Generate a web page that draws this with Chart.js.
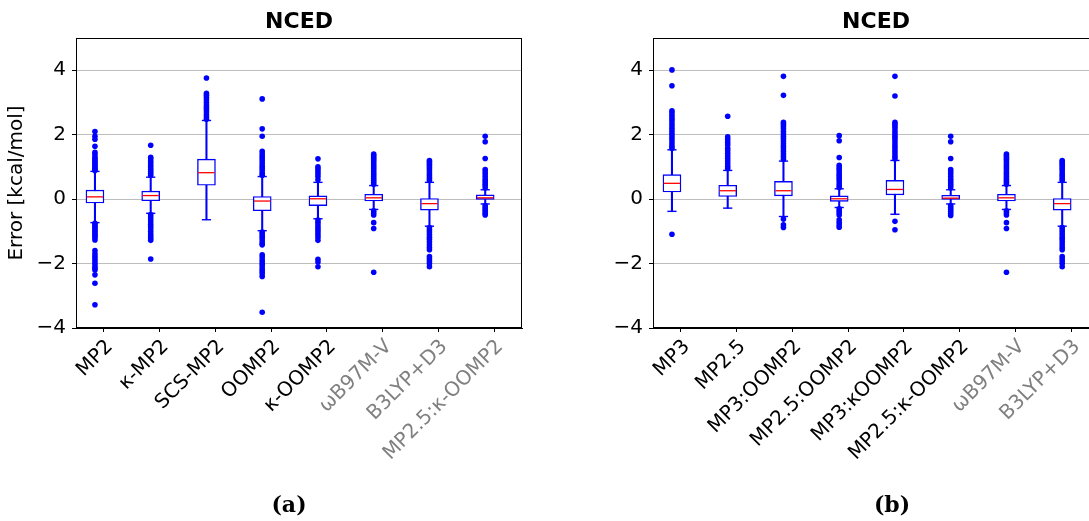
<!DOCTYPE html>
<html>
<head>
<meta charset="utf-8">
<script src="https://cdn.jsdelivr.net/npm/chart.js@4.4.1/dist/chart.umd.min.js"></script>
<style>
  html, body { margin: 0; padding: 0; background: #fff; overflow: hidden; width: 1089px; height: 521px; }
  canvas { position: absolute; top: 0; }
  #chartA { left: 0; }
  #chartB { left: 578px; }
</style>
</head>
<body>
<canvas id="chartA" width="578" height="521"></canvas>
<canvas id="chartB" width="628" height="521"></canvas>
<script>
// panel (a)
const namesA = ['MP2', '\u03BA-MP2', 'SCS-MP2', 'OOMP2', '\u03BA-OOMP2', '\u03C9B97M-V', 'B3LYP+D3', 'MP2.5:\u03BA-OOMP2'];
const q1A  = [-0.12, -0.05, 0.43, -0.36, -0.20, -0.06, -0.34, -0.01];
const medA = [ 0.07,  0.11, 0.82, -0.06,  0.01,  0.04, -0.14,  0.04];
const q3A  = [ 0.28,  0.25, 1.24,  0.08,  0.10,  0.15,  0.02,  0.13];
const loA  = [-0.73, -0.44, -0.64, -0.98, -0.61, -0.32, -0.84, -0.15];
const hiA  = [ 0.86,  0.68, 2.44,  0.70,  0.52,  0.42,  0.52,  0.29];
const outA = [
  [2.10, 1.95, 1.86, 1.64, 1.45, 1.38, 1.30, 1.25, 1.20, 1.15, 1.10, 1.05, 1.00, 0.96, 0.92, 0.89,
   -0.75, -0.80, -0.85, -0.90, -0.95, -1.00, -1.05, -1.10, -1.15, -1.20, -1.27, -1.60, -1.70, -1.78,
   -1.85, -1.92, -2.00, -2.08, -2.15, -2.20, -2.35, -2.61, -3.28],
  [1.67, 1.30, 1.25, 1.18, 1.12, 1.05, 0.98, 0.92, 0.86, 0.80, 0.74,
   -0.48, -0.55, -0.62, -0.70, -0.78, -0.85, -0.92, -1.00, -1.08, -1.15, -1.22, -1.28, -1.86],
  [3.76, 3.28, 3.22, 3.15, 3.08, 3.00, 2.92, 2.85, 2.78, 2.70, 2.62, 2.55, 2.48],
  [3.11, 2.18, 1.95, 1.48, 1.40, 1.32, 1.25, 1.18, 1.10, 1.02, 0.95, 0.88, 0.80, 0.74,
   -1.02, -1.08, -1.15, -1.22, -1.30, -1.38, -1.42, -1.73, -1.80, -1.88, -1.95, -2.02, -2.10,
   -2.18, -2.25, -2.32, -2.40, -3.51],
  [1.25, 1.00, 0.93, 0.85, 0.78, 0.70, 0.60,
   -0.65, -0.72, -0.80, -0.88, -0.95, -1.02, -1.10, -1.18, -1.28, -1.87, -1.95, -2.10],
  [1.40, 1.35, 1.30, 1.24, 1.18, 1.12, 1.06, 1.00, 0.94, 0.88, 0.82, 0.76, 0.70, 0.64, 0.58, 0.52, 0.46,
   -0.36, -0.42, -0.49, -0.73, -0.91, -2.27],
  [1.20, 1.15, 1.10, 1.05, 0.98, 0.92, 0.85, 0.78, 0.72, 0.65, 0.58,
   -0.88, -0.95, -1.02, -1.10, -1.18, -1.25, -1.33, -1.42, -1.50, -1.57, -1.78, -1.85, -1.92, -2.00, -2.10],
  [1.95, 1.78, 1.26, 0.92, 0.85, 0.78, 0.70, 0.62, 0.55, 0.48, 0.42, 0.35,
   -0.20, -0.26, -0.32, -0.38, -0.44, -0.49]
];

// panel (b)
const namesB = ['MP3', 'MP2.5', 'MP3:OOMP2', 'MP2.5:OOMP2', 'MP3:\u03BAOOMP2', 'MP2.5:\u03BA-OOMP2', '\u03C9B97M-V', 'B3LYP+D3'];
const q1B  = [0.22, 0.08, 0.10, -0.07, 0.13, -0.01, -0.06, -0.34];
const medB = [0.49, 0.26, 0.26,  0.01, 0.30,  0.03,  0.04, -0.14];
const q3B  = [0.76, 0.43, 0.55,  0.10, 0.58,  0.12,  0.15,  0.02];
const loB  = [-0.38, -0.28, -0.54, -0.26, -0.47, -0.15, -0.32, -0.84];
const hiB  = [ 1.53,  0.89,  1.18,  0.32,  1.20,  0.29,  0.42,  0.52];
const outB = [
  [4.01, 3.52, 2.74, 2.68, 2.60, 2.52, 2.45, 2.36, 2.28, 2.20, 2.12, 2.04, 1.96, 1.88, 1.80, 1.72, 1.64, 1.58, -1.09],
  [2.57, 1.93, 1.85, 1.76, 1.68, 1.58, 1.50, 1.42, 1.34, 1.26, 1.18, 1.10, 1.02, 0.95],
  [3.81, 3.22, 2.38, 2.32, 2.25, 2.18, 2.10, 2.02, 1.95, 1.88, 1.80, 1.72, 1.64, 1.56, 1.48, 1.40, 1.32, 1.24,
   -0.62, -0.80, -0.88],
  [1.97, 1.81, 1.29, 1.05, 0.98, 0.92, 0.85, 0.78, 0.72, 0.65, 0.58, 0.50, 0.42, 0.36,
   -0.30, -0.36, -0.42, -0.49, -0.64, -0.72, -0.80, -0.87],
  [3.81, 3.20, 2.38, 2.32, 2.25, 2.18, 2.10, 2.02, 1.95, 1.88, 1.80, 1.72, 1.64, 1.56, 1.48, 1.40, 1.32, 1.25,
   -0.69, -0.95],
  [1.95, 1.78, 1.26, 0.92, 0.85, 0.78, 0.70, 0.62, 0.55, 0.48, 0.42, 0.35,
   -0.20, -0.26, -0.32, -0.38, -0.44, -0.51],
  [1.40, 1.35, 1.30, 1.24, 1.18, 1.12, 1.06, 1.00, 0.94, 0.88, 0.82, 0.76, 0.70, 0.64, 0.58, 0.52, 0.46,
   -0.36, -0.42, -0.49, -0.73, -0.91, -2.27],
  [1.20, 1.15, 1.10, 1.05, 0.98, 0.92, 0.85, 0.78, 0.72, 0.65, 0.58,
   -0.88, -0.95, -1.02, -1.10, -1.18, -1.25, -1.33, -1.42, -1.50, -1.57, -1.78, -1.85, -1.92, -2.00, -2.10]
];

const yTicks = [-4, -2, 0, 2, 4];

const BLUE = '#0000ff';
const BOX_SHIFT = 0.16;   // boxes sit a bit left of their tick in the original
const tickFont = { family: 'DejaVu Sans', size: 20 };

Chart.defaults.font.family = 'DejaVu Sans';
Chart.defaults.color = '#000';

// full frame around the plot area
const frame = {
  id: 'frame',
  afterDraw(chart) {
    const { ctx, chartArea: a } = chart;
    ctx.save();
    ctx.strokeStyle = '#000';
    ctx.lineWidth = 1;
    ctx.strokeRect(Math.round(a.left) + 0.5, Math.round(a.top) + 0.5,
                   Math.round(a.right - a.left) - 1, Math.round(a.bottom - a.top) - 1);
    ctx.restore();
  }
};

function boxChart(id, names, q1, med, q3, lo, hi, outs, grayFrom, label, yTitle, yWidth, rightWidth) {
  const pos = names.map((n, i) => i + 1 - BOX_SHIFT);
  const outPts = [];
  outs.forEach((arr, i) => arr.forEach(v => outPts.push({ x: pos[i], y: v })));
  const caps = pos.map((x, i) => ({ x, y: lo[i] })).concat(pos.map((x, i) => ({ x, y: hi[i] })));

  return new Chart(document.getElementById(id), {
    type: 'scatter',
    data: {
      datasets: [
        { type: 'scatter', data: outPts, pointRadius: 2.8, pointBackgroundColor: BLUE,
          pointBorderWidth: 0, order: 0 },
        { type: 'scatter', data: pos.map((x, i) => ({ x, y: med[i] })), pointStyle: 'line',
          pointRadius: 8.2, pointBorderColor: '#ff0000', pointBorderWidth: 1.3, order: 1 },
        { type: 'scatter', data: caps, pointStyle: 'line', pointRadius: 4.6,
          pointBorderColor: BLUE, pointBorderWidth: 1.4, order: 2 },
        { type: 'bar', data: pos.map((x, i) => ({ x, y: [q1[i], q3[i]] })), backgroundColor: '#fff',
          borderColor: BLUE, borderWidth: 1.4, borderSkipped: false, barThickness: 18,
          grouped: false, order: 3 },
        { type: 'bar', data: pos.map((x, i) => ({ x, y: [lo[i], hi[i]] })), backgroundColor: BLUE,
          borderWidth: 0, barThickness: 1.4, grouped: false, order: 4 }
      ]
    },
    options: {
      responsive: false,
      animation: false,
      events: [],
      layout: { padding: 0 },
      plugins: {
        legend: { display: false },
        tooltip: { enabled: false },
        title: { display: true, text: 'NCED', fullSize: false, color: '#000',
                 font: { family: 'DejaVu Sans', size: 22, weight: 'bold' },
                 padding: { top: 9, bottom: 2.6 } },
        subtitle: { display: true, text: label, position: 'bottom', color: '#000',
                    font: { family: 'DejaVu Serif', size: 22, weight: 'bold' },
                    padding: { top: 14.6, bottom: 2 } }
      },
      scales: {
        x: {
          type: 'linear', min: 0.5, max: 8.5, offset: false,
          afterBuildTicks: s => { s.ticks = names.map((n, i) => ({ value: i + 1 })); },
          afterFit: s => { s.height = 150; },
          grid: { drawOnChartArea: false, offset: false, tickLength: 4, tickColor: '#000' },
          border: { color: '#000', width: 1 },
          ticks: {
            autoSkip: false, minRotation: 45, maxRotation: 45, padding: 3, labelOffset: 6,
            font: tickFont,
            color: c => (c.index >= grayFrom ? '#808080' : '#000'),
            callback: (v, i) => names[i]
          }
        },
        y: {
          min: -4, max: 5,
          afterBuildTicks: s => { s.ticks = yTicks.map(v => ({ value: v })); },
          afterFit: s => { s.width = yWidth; },
          grid: { color: '#bdbdbd', lineWidth: 1, tickColor: '#000', tickLength: 4 },
          border: { color: '#000', width: 1 },
          ticks: { font: tickFont, color: '#000', padding: 6,
                   callback: v => (v < 0 ? '\u2212' + Math.abs(v) : String(v)) },
          title: { display: yTitle, text: 'Error [kcal/mol]', color: '#000', font: tickFont,
                   padding: { top: 5, bottom: 0 } }
        },
        // empty right-hand axis, only reserves the margin right of the plot
        gap: {
          type: 'linear', position: 'right', display: true,
          grid: { display: false }, border: { display: false }, ticks: { display: false },
          afterFit: s => { s.width = rightWidth; }
        }
      }
    },
    plugins: [frame]
  });
}

boxChart('chartA', namesA, q1A, medA, q3A, loA, hiA, outA, 5, '(a)', true, 76, 56);
boxChart('chartB', namesB, q1B, medB, q3B, loB, hiB, outB, 6, '(b)', false, 75, 107);
</script>
</body>
</html>
